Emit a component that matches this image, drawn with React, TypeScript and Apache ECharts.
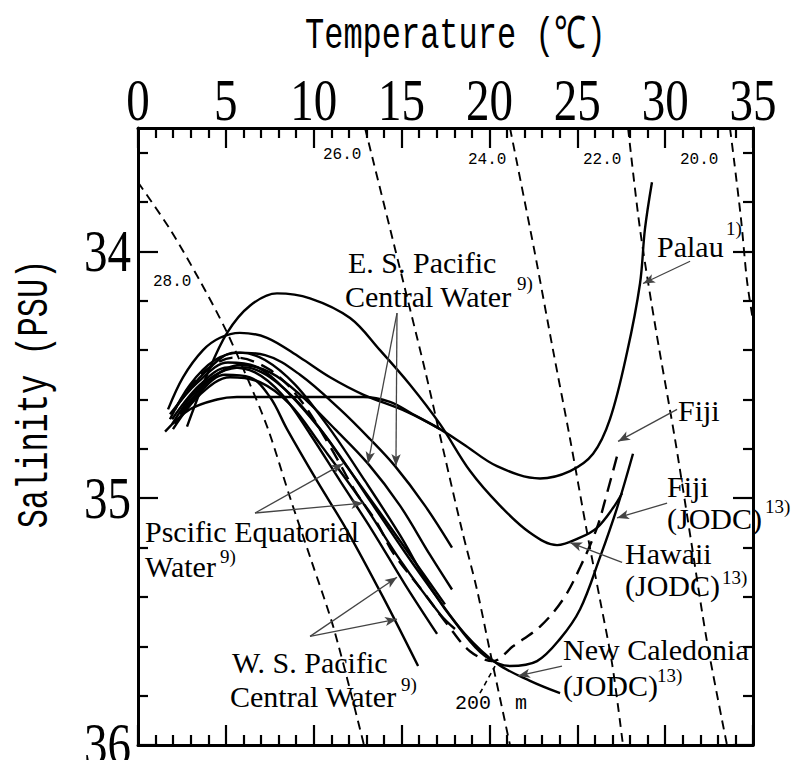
import React, { useEffect, useRef } from "react";
import * as echarts from "echarts";

// Axis ticks
const temperatureTicks = [0, 5, 10, 15, 20, 25, 30, 35];
const salinityMajor = [34, 35, 36];
const salinityMinor = [33.6, 33.8, 34.2, 34.4, 34.6, 34.8, 35.2, 35.4, 35.6, 35.8];

// sigma-t isopycnals, points are [temperature °C, salinity PSU]
const sigma28 = [[0, 33.72], [1.82, 33.91], [3.53, 34.12], [5.01, 34.32], [6.26, 34.52], [7.4, 34.72], [8.71, 35.01], [9.85, 35.25], [11.15, 35.53], [12.86, 36.0]];
const sigma26 = [[12.92, 33.5], [14.63, 33.99], [16.33, 34.48], [17.36, 34.8], [18.44, 35.13], [19.29, 35.37], [20.03, 35.62], [21.17, 36.0]];
const sigma24 = [[21.17, 33.5], [22.54, 33.99], [23.62, 34.4], [24.59, 34.76], [25.56, 35.14], [26.29, 35.41], [26.98, 35.67], [27.6, 36.0]];
const sigma22 = [[27.89, 33.5], [28.57, 33.91], [29.48, 34.32], [30.56, 34.76], [31.47, 35.17], [32.38, 35.58], [33.52, 36.0]];
const sigma20 = [[33.69, 33.5], [33.92, 33.63], [34.32, 33.87], [34.66, 34.12], [35.0, 34.28]];

// Station profiles
const palau = [[1.54, 34.73], [2.96, 34.64], [4.5, 34.6], [5.63, 34.59], [6.77, 34.59], [8.65, 34.59], [10.93, 34.59], [12.81, 34.59], [14.34, 34.61], [15.65, 34.66], [17.19, 34.72], [18.5, 34.78], [20.43, 34.87], [22.88, 34.92], [24.59, 34.89], [25.9, 34.82], [26.86, 34.68], [27.83, 34.41], [28.57, 34.13], [28.85, 33.91], [29.25, 33.72]];
const hawaii = [[2.79, 34.71], [3.93, 34.5], [5.07, 34.33], [6.37, 34.22], [7.91, 34.17], [9.79, 34.19], [12.07, 34.27], [13.77, 34.4], [15.48, 34.54], [17.19, 34.7], [18.9, 34.89], [20.6, 35.03], [22.31, 35.14], [23.85, 35.19], [25.15, 35.16], [26.12, 35.12], [27.03, 35.04], [27.55, 34.98]];
const upperBranch = [[1.71, 34.64], [2.56, 34.51], [3.7, 34.4], [4.67, 34.35], [5.8, 34.33], [7.34, 34.35], [9.22, 34.43], [10.93, 34.51], [12.81, 34.58], [15.31, 34.65], [17.19, 34.72]];
const fijiJodc = [[1.82, 34.68], [2.96, 34.54], [4.38, 34.44], [5.81, 34.41], [7.23, 34.44], [8.94, 34.54], [10.93, 34.72], [12.92, 34.93], [14.91, 35.15], [16.62, 35.36], [18.33, 35.53], [19.75, 35.64], [21.17, 35.68], [22.71, 35.66], [24.02, 35.57], [25.16, 35.45], [26.29, 35.24], [27.26, 35.04], [28.17, 34.82]];
const newCaledonia = [[1.94, 34.7], [3.24, 34.57], [4.67, 34.49], [6.09, 34.47], [7.51, 34.51], [9.22, 34.62], [11.21, 34.8], [13.2, 35.01], [15.2, 35.22], [16.9, 35.39], [18.61, 35.55], [20.43, 35.67], [22.31, 35.74], [24.02, 35.79]];
const fiji = [[2.11, 34.64], [3.53, 34.5], [5.52, 34.43], [7.51, 34.48], [9.22, 34.6], [10.93, 34.79], [12.35, 34.97], [13.6, 35.1], [14.51, 35.22], [16.45, 35.4], [17.59, 35.51], [18.89, 35.62], [20.2, 35.66], [21.34, 35.6], [22.88, 35.52], [24.19, 35.41], [25.16, 35.28], [26.12, 35.12], [26.69, 34.98], [27.26, 34.83]];

// Water-mass curves
const wsPacific1 = [[2.11, 34.7], [3.53, 34.57], [4.95, 34.5], [6.37, 34.51], [7.51, 34.59], [8.48, 34.72], [10.19, 34.93], [11.89, 35.13], [13.94, 35.4], [15.94, 35.68]];
const wsPacific2 = [[1.94, 34.68], [3.53, 34.54], [5.12, 34.47], [6.66, 34.49], [8.2, 34.58], [9.79, 34.74], [11.5, 34.93], [13.32, 35.13], [15.2, 35.35], [17.02, 35.55]];
const eqPacific1 = [[1.82, 34.66], [3.41, 34.53], [5.12, 34.45], [6.83, 34.47], [8.65, 34.58], [10.36, 34.72], [11.67, 34.85], [13.49, 35.03], [15.48, 35.23], [17.47, 35.43]];
const eqPacific2 = [[1.99, 34.72], [3.53, 34.58], [5.24, 34.51], [6.94, 34.53], [8.65, 34.62], [10.36, 34.78], [12.81, 35.02], [14.91, 35.25], [17.19, 35.47], [18.04, 35.53]];
const esPacific1 = [[2.28, 34.62], [3.81, 34.49], [5.52, 34.41], [7.23, 34.42], [9.22, 34.5], [11.5, 34.64], [13.2, 34.76], [14.63, 34.87], [16.33, 35.03], [17.87, 35.2]];
const esPacific2 = [[2.39, 34.66], [4.1, 34.52], [5.81, 34.46], [7.51, 34.49], [9.22, 34.58], [11.21, 34.72], [13.09, 34.86], [14.91, 35.03], [16.62, 35.23], [17.87, 35.37]];

// Callout arrows: [from, to] in [temperature, salinity]
const arrows = [
  [[31.42, 34.04], [28.74, 34.13]],
  [[30.68, 34.64], [27.32, 34.77]],
  [[30.11, 35.02], [27.26, 35.08]],
  [[27.55, 35.26], [24.59, 35.18]],
  [[24.13, 35.68], [21.63, 35.72]],
  [[14.74, 34.25], [13.09, 34.86]],
  [[14.74, 34.25], [14.68, 34.87]],
  [[6.66, 35.06], [11.67, 34.86]],
  [[6.66, 35.06], [12.81, 35.02]],
  [[9.79, 35.56], [14.74, 35.32]],
  [[9.79, 35.56], [14.74, 35.49]],
];
// Dashed pointer from the "200 m" note to the 200 m point
const depthPointer = [[19.46, 35.79], [20.32, 35.68]];

const SERIF = "'Liberation Serif', 'Times New Roman', serif";
const MONO = "'Liberation Mono', 'DejaVu Sans Mono', monospace";

function profile(data: number[][], dashed = false) {
  return {
    type: "line",
    data,
    smooth: 0.35,
    showSymbol: false,
    symbol: "none",
    silent: true,
    xAxisIndex: 0,
    yAxisIndex: 0,
    lineStyle: { color: "#000", width: 2.4, type: dashed ? [14, 8] : "solid" },
    z: 3,
  };
}

function isopycnal(data: number[][]) {
  return {
    type: "line",
    data,
    smooth: 0.3,
    showSymbol: false,
    symbol: "none",
    silent: true,
    xAxisIndex: 0,
    yAxisIndex: 0,
    lineStyle: { color: "#000", width: 1.9, type: [9, 6] },
    z: 2,
  };
}

type TextOpts = { size?: number; family?: string; align?: string; scaleY?: number; rotation?: number };

function text(content: string, x: number, y: number, opts: TextOpts = {}) {
  const { size = 30, family = SERIF, align = "left", scaleY = 1, rotation = 0 } = opts;
  return {
    type: "text",
    x,
    y,
    scaleY,
    rotation,
    silent: true,
    z: 10,
    style: {
      text: content,
      fill: "#000",
      fontSize: size,
      fontFamily: family,
      align,
      verticalAlign: "middle",
    },
  };
}

const sup = (content: string, x: number, y: number) => text(content, x, y, { size: 19 });

export default function App() {
  const ref = useRef<HTMLDivElement>(null);

  useEffect(() => {
    if (!ref.current) return;
    const chart = echarts.init(ref.current, undefined, { renderer: "svg" });

    const lineStyle = { color: "#000", width: 3 };
    const tickStyle = { color: "#000", width: 2.2 };

    const xBase = {
      type: "value",
      min: 0,
      max: 35,
      interval: 5,
      axisLine: { show: true, lineStyle },
      axisTick: { show: true, inside: true, length: 20, lineStyle: tickStyle },
      minorTick: { show: true, splitNumber: 5, length: 10, lineStyle: tickStyle },
      axisLabel: { show: false },
      splitLine: { show: false },
      minorSplitLine: { show: false },
    };
    const yBase = {
      type: "value",
      inverse: true,
      min: 33.5,
      max: 36,
      axisLabel: { show: false },
      splitLine: { show: false },
    };

    chart.setOption({
      animation: false,
      backgroundColor: "#fff",
      grid: { left: 138, top: 128, width: 615, height: 617, containLabel: false },
      xAxis: [
        { ...xBase, position: "top" },
        { ...xBase, position: "bottom" },
      ],
      yAxis: [
        {
          ...yBase,
          position: "left",
          axisLine: { show: true, lineStyle },
          axisTick: { show: true, inside: true, length: 20, lineStyle: tickStyle, customValues: salinityMajor },
        },
        {
          ...yBase,
          position: "left",
          axisLine: { show: false },
          axisTick: { show: true, inside: true, length: 10, lineStyle: tickStyle, customValues: salinityMinor },
        },
        {
          ...yBase,
          position: "right",
          axisLine: { show: true, lineStyle },
          axisTick: { show: true, inside: true, length: 20, lineStyle: tickStyle, customValues: salinityMajor },
        },
        {
          ...yBase,
          position: "right",
          axisLine: { show: false },
          axisTick: { show: true, inside: true, length: 10, lineStyle: tickStyle, customValues: salinityMinor },
        },
      ],
      series: [
        isopycnal(sigma28),
        isopycnal(sigma26),
        isopycnal(sigma24),
        isopycnal(sigma22),
        isopycnal(sigma20),
        profile(wsPacific1),
        profile(wsPacific2),
        profile(eqPacific1),
        profile(eqPacific2),
        profile(esPacific1),
        profile(esPacific2),
        profile(newCaledonia),
        profile(fijiJodc),
        profile(fiji, true),
        profile(upperBranch),
        profile(hawaii),
        {
          ...profile(palau),
          markLine: {
            silent: true,
            symbol: ["none", "arrow"],
            symbolSize: [7, 12],
            label: { show: false },
            lineStyle: { color: "#444", width: 1.3, type: "solid" },
            data: [
              ...arrows.map(([a, b]) => [{ coord: a }, { coord: b }]),
              [
                { coord: depthPointer[0], symbol: "none", lineStyle: { color: "#000", width: 1.6, type: [5, 4] } },
                { coord: depthPointer[1], symbol: "none" },
              ],
            ],
          },
        },
      ],
    });

    // Tick labels are placed from the axis scales; the printed digits are tall and narrow
    const px = (t: number) => chart.convertToPixel({ xAxisIndex: 0 }, t) as number;
    const py = (s: number) => chart.convertToPixel({ yAxisIndex: 0 }, s) as number;
    const tickLabels = [
      ...temperatureTicks.map((t) =>
        text(String(t), px(t), 101, { size: 47, align: "center", scaleY: 1.25 })
      ),
      ...salinityMajor.map((s) => text(String(s), 131, py(s), { size: 47, align: "right", scaleY: 1.25 })),
    ];

    chart.setOption({
      graphic: {
        elements: [
          ...tickLabels,
          text("Temperature (℃)", 305, 36, { size: 32, family: MONO, scaleY: 1.4 }),
          text("Salinity (PSU)", 35, 394, { size: 32, family: MONO, align: "center", scaleY: 1.4, rotation: Math.PI / 2 }),
          text("28.0", 153, 282, { size: 16, family: MONO }),
          text("26.0", 323, 155, { size: 16, family: MONO }),
          text("24.0", 468, 160, { size: 16, family: MONO }),
          text("22.0", 583, 160, { size: 16, family: MONO }),
          text("20.0", 680, 160, { size: 16, family: MONO }),
          text("E. S. Pacific", 348, 262),
          text("Central Water", 345, 296),
          sup("9)", 517, 283),
          text("Palau", 657, 246),
          sup("1)", 726, 228),
          text("Fiji", 678, 410),
          text("Fiji", 667, 486),
          text("(JODC)", 667, 518),
          sup("13)", 765, 506),
          text("Hawaii", 625, 553),
          text("(JODC)", 625, 585),
          sup("13)", 722, 577),
          text("New Caledonia", 563, 649),
          text("(JODC)", 563, 685),
          sup("13)", 657, 675),
          text("Pscific Equatorial", 145, 531),
          text("Water", 145, 566),
          sup("9)", 220, 556),
          text("W. S. Pacific", 232, 662),
          text("Central Water", 230, 696),
          sup("9)", 401, 684),
          text("200", 455, 703, { size: 20, family: MONO }),
          text("m", 515, 703, { size: 20, family: MONO }),
        ],
      },
    });

    return () => chart.dispose();
  }, []);

  return (
    <div
      ref={ref}
      style={{ position: "absolute", left: 0, top: 0, width: 791, height: 760, background: "#fff" }}
    />
  );
}
